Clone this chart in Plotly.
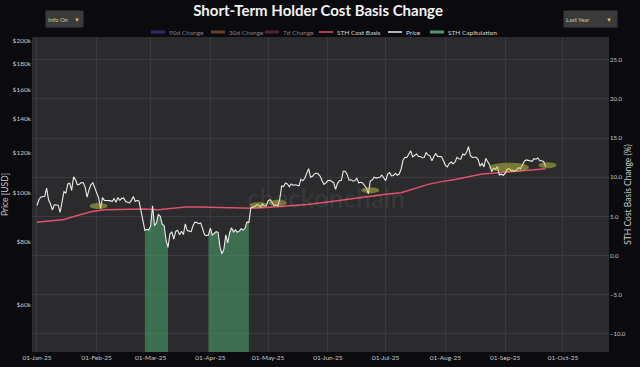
import math
import pandas as pd
import plotly.graph_objects as go

# ---------------- data ----------------
price_start = "2025-01-01"
price_k = [
    # Jan
    94.4, 96.9, 98.1, 98.2, 98.3, 102.1, 96.9, 95.0, 92.5, 94.7, 94.6, 94.5, 91.5, 96.5, 100.5, 99.9,
    104.1, 104.4, 101.1, 107.5, 106.1, 103.7, 104.0, 104.8, 104.7, 102.6, 98.0, 101.3, 103.7, 104.7, 102.4,
    # Feb
    100.6, 97.7, 93.0, 97.8, 96.6, 96.6, 96.5, 96.5, 96.1, 97.4, 95.8, 97.9, 96.6, 97.5, 97.6, 96.1,
    95.8, 95.5, 96.6, 98.3, 96.1, 96.6, 96.3, 91.5, 88.7, 84.3, 84.7, 84.4,
    # Mar
    86.0, 94.3, 86.1, 87.2, 90.6, 89.9, 86.7, 86.2, 80.7, 78.0, 82.9, 83.7, 81.0, 83.9, 84.3, 82.6,
    84.0, 82.7, 86.8, 84.2, 84.0, 83.8, 86.1, 87.5, 87.4, 86.9, 87.2, 84.4, 82.6, 82.3, 82.5,
    # Apr
    85.2, 82.5, 83.1, 83.8, 83.5, 78.2, 75.8, 77.3, 82.6, 79.6, 83.4, 85.3, 83.7, 84.5, 83.6, 84.0,
    84.9, 84.4, 85.1, 87.5, 87.4, 93.4, 93.7, 93.9, 94.7, 94.6, 93.8, 95.0, 94.3, 94.2,
    # May
    96.5, 96.9, 95.9, 94.3, 94.7, 94.2, 97.0, 103.2, 102.9, 104.6, 104.1, 102.8, 104.1, 103.5, 103.7, 103.5,
    103.2, 106.4, 105.6, 106.8, 109.6, 111.6, 107.3, 107.8, 109.0, 109.4, 108.9, 107.8, 105.6, 103.9, 104.6,
    # Jun
    105.7, 105.8, 105.4, 104.7, 101.6, 104.4, 105.6, 105.8, 110.3, 110.3, 108.7, 105.9, 106.1, 105.5, 105.6,
    106.8, 104.6, 104.9, 104.6, 103.3, 102.2, 99.5, 105.6, 106.0, 107.3, 106.9, 107.1, 107.3, 108.4, 107.1,
    # Jul
    105.7, 108.9, 109.6, 108.0, 108.2, 109.2, 108.3, 108.9, 111.3, 115.9, 117.5, 117.4, 119.1, 121.0, 117.7, 118.7,
    119.3, 117.9, 117.9, 117.3, 117.4, 120.0, 118.7, 118.3, 115.6, 117.9, 119.4, 118.0, 117.9, 117.8, 115.7,
    # Aug
    113.3, 112.5, 114.2, 115.0, 114.1, 115.0, 117.5, 116.7, 116.5, 119.3, 118.7, 120.2, 123.3, 118.4, 117.4, 117.5,
    117.5, 116.3, 112.9, 114.3, 112.5, 116.9, 115.4, 113.5, 110.1, 111.8, 111.3, 112.6, 108.4, 108.8, 108.3,
    # Sep
    109.2, 111.2, 111.7, 110.7, 110.7, 110.2, 111.2, 112.1, 111.5, 113.9, 115.5, 116.1, 115.9, 115.3, 115.4,
    116.8, 116.5, 117.1, 115.7, 115.7, 115.3, 112.7,
]

cost_basis_dates = [
    "2025-01-01", "2025-01-08", "2025-01-15", "2025-01-22", "2025-01-29", "2025-02-05", "2025-02-12",
    "2025-02-19", "2025-02-26", "2025-03-05", "2025-03-12", "2025-03-19", "2025-03-26", "2025-04-02",
    "2025-04-09", "2025-04-16", "2025-04-23", "2025-04-30", "2025-05-07", "2025-05-14", "2025-05-21",
    "2025-05-28", "2025-06-04", "2025-06-11", "2025-06-18", "2025-06-25", "2025-07-02", "2025-07-09",
    "2025-07-16", "2025-07-23", "2025-07-30", "2025-08-06", "2025-08-13", "2025-08-20", "2025-08-27",
    "2025-09-03", "2025-09-10", "2025-09-17", "2025-09-22",
]
cost_basis_k = [
    87.5, 88.0, 88.6, 90.2, 91.7, 92.6, 92.8, 93.0, 92.9, 92.6, 93.3, 93.7, 93.7, 93.6,
    93.4, 93.2, 93.2, 93.5, 93.9, 94.3, 94.8, 95.5, 96.3, 97.2, 98.0, 98.7, 99.4, 100.0,
    101.8, 103.9, 105.2, 106.2, 107.6, 108.9, 109.4, 109.9, 110.4, 111.0, 111.5,
]

capitulation_windows = [("2025-02-26", "2025-03-10"), ("2025-03-31", "2025-04-21")]

highlight_dates = ["2025-02-02", "2025-04-26", "2025-05-06", "2025-06-23", "2025-09-03", "2025-09-23"]
highlight_price_k = [92.9, 93.3, 94.2, 99.8, 109.8, 111.8]
highlight_big = [False, False, False, False, True, False]

price_ticks = [60000, 80000, 100000, 120000, 140000, 160000, 180000, 200000]
price_tick_text = ["$60k", "$80k", "$100k", "$120k", "$140k", "$160k", "$180k", "$200k"]
pct_ticks = [-10, -5, 0, 5, 10, 15, 20, 25]

legend_labels = ["90d Change", "30d Change", "7d Change", "STH Cost Basis", "Price", "STH Capitulation"]
legend_hidden = [True, True, True, False, False, False]

# ---------------- build ----------------
dates = pd.date_range(price_start, periods=len(price_k), freq="D")
price = pd.Series([v * 1000 for v in price_k], index=dates)
cb_x = pd.to_datetime(cost_basis_dates)
cb_y = [v * 1000 for v in cost_basis_k]

FONT = "Lato, 'Open Sans', sans-serif"
TXT = "#c9c9c9"
W, H = 640, 367
ML, MR, MT, MB = 32, 31, 37, 15
PW, PH = W - ML - MR, H - MT - MB


def px_x(px):
    return (px - ML) / PW


def px_y(py):
    return (H - MB - py) / PH


colors = {"90d Change": "#5050c8", "30d Change": "#b87a3a", "7d Change": "#9a3a55",
          "STH Cost Basis": "#e0506c", "Price": "#ececec", "STH Capitulation": "#4e9a6e"}

fig = go.Figure()

# capitulation fills (drawn first, beneath lines)
for i, (a, b) in enumerate(capitulation_windows):
    seg = price[a:b]
    fig.add_trace(go.Scatter(x=seg.index, y=[40000] * len(seg), mode="lines",
                             line=dict(width=0), showlegend=False, hoverinfo="skip"))
    fig.add_trace(go.Scatter(x=seg.index, y=seg.values, mode="lines", fill="tonexty",
                             fillcolor="rgba(78,165,112,0.55)", line=dict(width=0, color="#3f7a57"),
                             name="STH Capitulation", showlegend=False))

# hidden change series (legend-only)
for nm in legend_labels[:3]:
    fig.add_trace(go.Scatter(x=[None], y=[None], mode="lines", name=nm, yaxis="y2",
                             line=dict(color=colors[nm], width=2), visible="legendonly", showlegend=False))

fig.add_trace(go.Scatter(x=cb_x, y=cb_y, mode="lines", name="STH Cost Basis",
                         line=dict(color=colors["STH Cost Basis"], width=1.5), showlegend=False))
fig.add_trace(go.Scatter(x=price.index, y=price.values, mode="lines", name="Price",
                         line=dict(color=colors["Price"], width=1.1), showlegend=False))

shapes = []
for d, p, big in zip(highlight_dates, highlight_price_k, highlight_big):
    w, h = (40, 19) if big else (18, 12)
    shapes.append(dict(type="circle", xref="x", yref="y", xsizemode="pixel", ysizemode="pixel",
                       xanchor=d, yanchor=p * 1000, x0=-w / 2, x1=w / 2, y0=-h / 2, y1=h / 2,
                       fillcolor="rgba(205,205,70,0.48)", line=dict(width=0), layer="above"))

annotations = [dict(text="<b>checkonchain</b>", xref="paper", yref="paper", x=0.51, y=0.49,
                    showarrow=False, font=dict(size=26, color="rgba(255,255,255,0.06)", family=FONT))]

# legend row (drawn manually to match compact swatches)
legend_starts_px = [151, 211, 265, 319, 388, 430]
ly = px_y(32)
for lab, hid, sx in zip(legend_labels, legend_hidden, legend_starts_px):
    col = colors[lab]
    shapes.append(dict(type="line", xref="paper", yref="paper", x0=px_x(sx), x1=px_x(sx + 14),
                       y0=ly, y1=ly, line=dict(color=col, width=3 if lab in ("STH Capitulation",) or hid else 1.5),
                       opacity=0.5 if hid else 1.0))
    annotations.append(dict(text=lab, xref="paper", yref="paper", x=px_x(sx + 16), y=ly,
                            xanchor="left", yanchor="middle", showarrow=False,
                            font=dict(size=6.5, color="#808080" if hid else "#d8d8d8", family=FONT)))

# dropdown-like boxes
for label, x0, x1, ax in [("Info On", 45, 82, 77), ("Last Year", 563, 616, 609)]:
    annotations.append(dict(text=label, xref="paper", yref="paper", x=px_x(x0), y=px_y(19.5),
                            xanchor="left", yanchor="middle", showarrow=False, align="left",
                            width=x1 - x0 - 4, height=12, borderpad=2, bgcolor="#3a3a3a",
                            font=dict(size=6, color="#d8c898", family=FONT)))
    annotations.append(dict(text="▼", xref="paper", yref="paper", x=px_x(ax), y=px_y(19.5),
                            xanchor="center", yanchor="middle", showarrow=False,
                            font=dict(size=6, color="#e8b840", family=FONT)))

fig.update_layout(
    width=W, height=H,
    paper_bgcolor="#0b0b0f", plot_bgcolor="#2b2b2e",
    margin=dict(l=ML, r=MR, t=MT, b=MB, autoexpand=False),
    font=dict(family=FONT, color=TXT, size=8),
    title=dict(text="<b>Short-Term Holder Cost Basis Change</b>", x=0.497, xanchor="center",
               y=1 - 11 / 367, yanchor="middle", yref="container",
               font=dict(size=15, color="#f2f2f2", family=FONT)),
    showlegend=False,
    shapes=shapes,
    annotations=annotations,
    xaxis=dict(type="date", range=["2024-12-29 10:00", "2025-10-24 22:00"],
               tickformat="%d-%b-%y", dtick="M1", tick0="2025-01-01",
               showgrid=True, gridcolor="#3a3a3e", gridwidth=1, zeroline=False, showline=False,
               tickfont=dict(size=6.5, color=TXT), ticks=""),
    yaxis=dict(type="log", range=[math.log10(48500), math.log10(203000)],
               tickvals=price_ticks, ticktext=price_tick_text, showgrid=False, zeroline=False,
               tickfont=dict(size=6.5, color=TXT), ticks="",
               title=dict(text="Price [USD]", font=dict(size=8.5, color=TXT), standoff=5)),
    yaxis2=dict(overlaying="y", side="right", range=[-12.3, 27.9], tickvals=pct_ticks,
                tickformat=".1f", ticksuffix="%", showgrid=True, gridcolor="#3a3a3e",
                zeroline=False, tickfont=dict(size=6, color=TXT), ticks="",
                title=dict(text="STH Cost Basis Change (%)", font=dict(size=8.5, color=TXT), standoff=0)),
)

fig.write_html("out.html", config={"displayModeBar": False},
               post_script="document.body.style.margin='0px';")
